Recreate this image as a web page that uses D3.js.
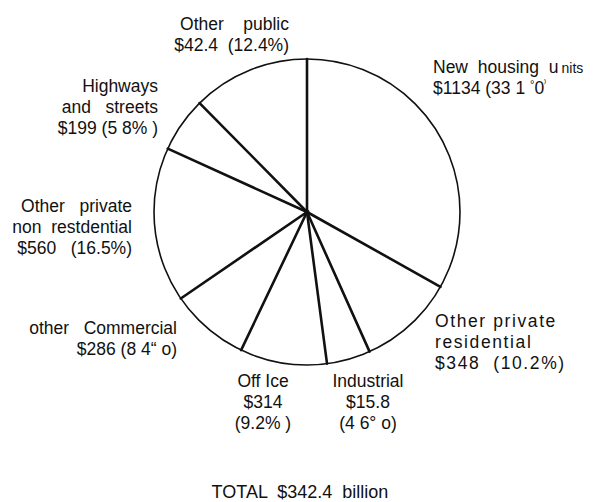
<!DOCTYPE html>
<html>
<head>
<meta charset="utf-8">
<script src="https://cdn.jsdelivr.net/npm/d3@7"></script>
<style>
  body { margin: 0; background: #fff; }
  text { font-family: "Liberation Sans", Arial, sans-serif; fill: #111; white-space: pre; }
</style>
</head>
<body>
<div id="chart"></div>
<script>
// Data (billions of dollars), clockwise from 12 o'clock
const categories = [
  'New housing units',
  'Other private residential',
  'Industrial',
  'Office',
  'Other commercial',
  'Other private nonresidential',
  'Highways and streets',
  'Other public'
];
const values = [113.4, 34.8, 15.8, 31.4, 28.6, 56.0, 19.9, 42.4];

// Label text as printed
const labelLines = [
  ['New  housing  u', '$1134 (33 1 '],
  ['Other private', 'residential', '$348  (10.2%)'],
  ['Industrial', '$15.8', '(4 6° o)'],
  ['Off Ice', '$314', '(9.2% )'],
  ['other   Commercial', '$286 (8 4“ o)'],
  ['Other   private', 'non  restdential', '$560   (16.5%)'],
  ['Highways', 'and   streets', '$199 (5 8% )'],
  ['Other    public', '$42.4  (12.4%)']
];
const totalLabel = 'TOTAL  $342.4  billion';

// Chart dimensions
const width = 601;
const height = 502;
const cx = 307;
const cy = 212;
const radius = 153;

// label anchor offsets from the pie centre
const labelLayout = [
  { dx: 126, dy: -139, anchor: 'start' },
  { dx: 128, dy: 115, anchor: 'start' },
  { dx: 61, dy: 175, anchor: 'middle' },
  { dx: -44, dy: 175, anchor: 'middle' },
  { dx: -130, dy: 122, anchor: 'end' },
  { dx: -175, dy: 0, anchor: 'end' },
  { dx: -149, dy: -120, anchor: 'end' },
  { dx: -18, dy: -182, anchor: 'end' }
];

const svg = d3.select('#chart')
  .append('svg')
  .attr('width', width)
  .attr('height', height);

const g = svg.append('g')
  .attr('transform', `translate(${cx}, ${cy})`);

const pie = d3.pie().sort(null).value(d => d);
const arcs = pie(values);

const arc = d3.arc().innerRadius(0).outerRadius(radius);

// slice fills
g.selectAll('.slice')
  .data(arcs)
  .enter()
  .append('path')
  .attr('class', 'slice')
  .attr('d', arc)
  .attr('fill', '#fff')
  .attr('stroke', 'none');

// outline
g.append('circle')
  .attr('r', radius)
  .attr('fill', 'none')
  .attr('stroke', '#111')
  .attr('stroke-width', 1.6);

// radial dividers
g.selectAll('.divider')
  .data(arcs)
  .enter()
  .append('line')
  .attr('class', 'divider')
  .attr('x1', 0)
  .attr('y1', 0)
  .attr('x2', d => d3.pointRadial(d.startAngle, radius)[0])
  .attr('y2', d => d3.pointRadial(d.startAngle, radius)[1])
  .attr('stroke', '#111')
  .attr('stroke-width', 2.6)
  .attr('stroke-linecap', 'round');

g.append('circle').attr('r', 2.5).attr('fill', '#111');

// labels
const lineH = 21;
const labels = g.selectAll('.label')
  .data(arcs)
  .enter()
  .append('text')
  .attr('class', 'label')
  .attr('font-size', 17.5)
  .attr('text-anchor', (d, i) => labelLayout[i].anchor)
  .attr('letter-spacing', (d, i) => i === 1 ? 1.6 : 0);

labels.each(function (d, i) {
  const t = d3.select(this);
  const pos = labelLayout[i];
  labelLines[i].forEach((line, j) => {
    t.append('tspan')
      .attr('x', pos.dx)
      .attr('y', pos.dy + j * lineH)
      .text(line);
    if (i === 0 && j === 0) {
      t.append('tspan').attr('font-size', 14).attr('dx', 3).text('nits');
    }
    if (i === 0 && j === 1) {
      t.append('tspan').attr('font-size', 11).attr('dy', -6).text('°');
      t.append('tspan').attr('dy', 6).text('0');
      t.append('tspan').attr('font-size', 10).attr('dy', -6).text('⁾');
    }
  });
});

svg.append('text')
  .attr('x', 300)
  .attr('y', 498)
  .attr('text-anchor', 'middle')
  .attr('font-size', 18)
  .text(totalLabel);
</script>
</body>
</html>
